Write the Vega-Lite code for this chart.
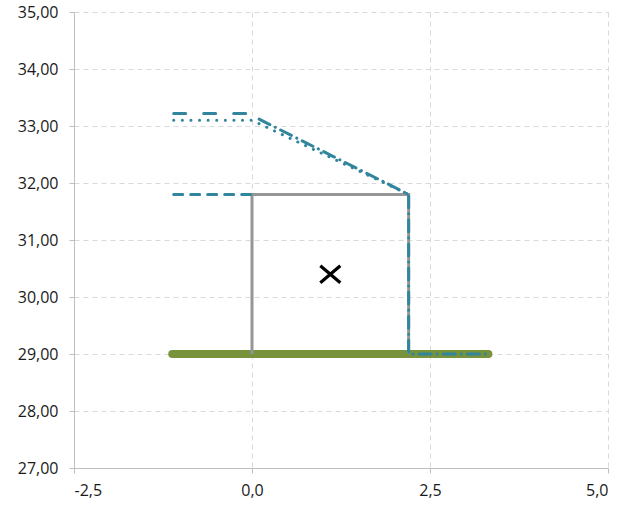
{
  "$schema": "https://vega.github.io/schema/vega-lite/v6.json",
  "width": 534,
  "height": 456,
  "autosize": "none",
  "padding": {"left": 74, "top": 12, "right": 18, "bottom": 38},
  "background": "white",
  "config": {
    "view": {"stroke": null},
    "font": "Open Sans",
    "axis": {
      "gridColor": "#d9d9d9",
      "gridDash": [5, 4],
      "gridWidth": 1,
      "domainColor": "#bfbfbf",
      "tickColor": "#bfbfbf",
      "tickSize": 5,
      "labelFont": "Open Sans",
      "labelFontSize": 16,
      "labelColor": "#1a1a1a",
      "title": null
    }
  },
  "datasets": {
    "lines": [
      {"series": "gray", "order": 1, "x": 0, "y": 29},
      {"series": "gray", "order": 2, "x": 0, "y": 31.8},
      {"series": "gray", "order": 3, "x": 2.2, "y": 31.8},
      {"series": "gray", "order": 4, "x": 2.2, "y": 29},
      {"series": "green", "order": 1, "x": -1.12, "y": 29},
      {"series": "green", "order": 2, "x": 3.32, "y": 29},
      {"series": "dashTop", "order": 1, "x": -1.1, "y": 33.22},
      {"series": "dashTop", "order": 2, "x": 0, "y": 33.22},
      {"series": "dotted", "order": 1, "x": -1.1, "y": 33.1},
      {"series": "dotted", "order": 2, "x": 0, "y": 33.1},
      {"series": "dotted", "order": 3, "x": 2.2, "y": 31.8},
      {"series": "dashdot", "order": 1, "x": 0.1, "y": 33.12},
      {"series": "dashdot", "order": 2, "x": 2.2, "y": 31.8},
      {"series": "dashdot", "order": 3, "x": 2.2, "y": 29},
      {"series": "dashdot", "order": 4, "x": 3.3, "y": 29},
      {"series": "dashMid", "order": 1, "x": -1.1, "y": 31.8},
      {"series": "dashMid", "order": 2, "x": 0, "y": 31.8}
    ],
    "point": [{"x": 1.1, "y": 30.4}]
  },
  "layer": [
    {
      "data": {"name": "point"},
      "mark": {"type": "point", "opacity": 0},
      "encoding": {
        "x": {
          "field": "x", "type": "quantitative",
          "scale": {"domain": [-2.5, 5], "nice": false, "zero": false},
          "axis": {"values": [-2.5, 0, 2.5, 5], "labelExpr": "replace(replace(format(datum.value, '.1f'), '.', ','), '\u2212', '-')", "labelPadding": 9}
        },
        "y": {
          "field": "y", "type": "quantitative",
          "scale": {"domain": [27, 35], "nice": false, "zero": false},
          "axis": {"values": [27, 28, 29, 30, 31, 32, 33, 34, 35], "labelExpr": "replace(format(datum.value, '.2f'), '.', ',')", "labelPadding": 11}
        }
      }
    },
    {
      "data": {"name": "lines"},
      "transform": [{"filter": "datum.series == 'green'"}],
      "mark": {"type": "line", "color": "#77933c", "strokeWidth": 8, "strokeCap": "round"},
      "encoding": {"x": {"field": "x", "type": "quantitative"}, "y": {"field": "y", "type": "quantitative"}, "order": {"field": "order"}}
    },
    {
      "data": {"name": "lines"},
      "transform": [{"filter": "datum.series == 'gray'"}],
      "mark": {"type": "line", "color": "#969696", "strokeWidth": 3},
      "encoding": {"x": {"field": "x", "type": "quantitative"}, "y": {"field": "y", "type": "quantitative"}, "order": {"field": "order"}}
    },
    {
      "data": {"name": "lines"},
      "transform": [{"filter": "datum.series == 'dashTop'"}],
      "mark": {"type": "line", "color": "#31859c", "strokeWidth": 3, "strokeDash": [12, 18], "strokeCap": "round"},
      "encoding": {"x": {"field": "x", "type": "quantitative"}, "y": {"field": "y", "type": "quantitative"}, "order": {"field": "order"}}
    },
    {
      "data": {"name": "lines"},
      "transform": [{"filter": "datum.series == 'dashMid'"}],
      "mark": {"type": "line", "color": "#31859c", "strokeWidth": 3, "strokeDash": [9, 8], "strokeCap": "round"},
      "encoding": {"x": {"field": "x", "type": "quantitative"}, "y": {"field": "y", "type": "quantitative"}, "order": {"field": "order"}}
    },
    {
      "data": {"name": "lines"},
      "transform": [{"filter": "datum.series == 'dotted'"}],
      "mark": {"type": "line", "color": "#31859c", "strokeWidth": 3, "strokeDash": [0.1, 8.5], "strokeCap": "round"},
      "encoding": {"x": {"field": "x", "type": "quantitative"}, "y": {"field": "y", "type": "quantitative"}, "order": {"field": "order"}}
    },
    {
      "data": {"name": "lines"},
      "transform": [{"filter": "datum.series == 'dashdot'"}],
      "mark": {"type": "line", "color": "#31859c", "strokeWidth": 3, "strokeDash": [12, 6, 0.1, 6], "strokeCap": "round"},
      "encoding": {"x": {"field": "x", "type": "quantitative"}, "y": {"field": "y", "type": "quantitative"}, "order": {"field": "order"}}
    },
    {
      "data": {"name": "point"},
      "mark": {"type": "point", "shape": "M-1,-0.85L1,0.85M-1,0.85L1,-0.85", "filled": false, "color": "black", "strokeWidth": 3.2, "size": 400, "opacity": 1},
      "encoding": {"x": {"field": "x", "type": "quantitative"}, "y": {"field": "y", "type": "quantitative"}}
    }
  ]
}
